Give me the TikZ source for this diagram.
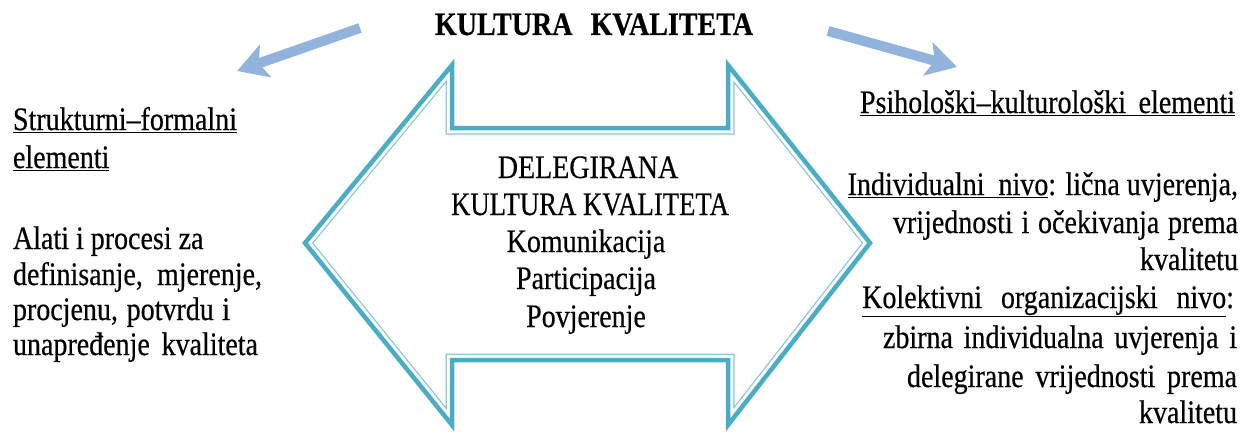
\documentclass[tikz,border=0pt]{standalone}
\usepackage{fontspec}
\setmainfont{Liberation Serif}
\newfontfamily\heavyrm{Liberation Serif}[FakeBold=0.5]
\usetikzlibrary{arrows.meta}
\definecolor{tealA}{RGB}{75,172,198}
\definecolor{tealB}{RGB}{130,198,218}
\definecolor{arrblue}{RGB}{146,180,220}
\newcommand\fsz{\heavyrm\fontsize{28}{34}\selectfont}
\begin{document}
\begin{tikzpicture}[x=1pt,y=1pt,
  txt/.style={inner sep=0pt, outer sep=0pt, font=\fsz, yscale=1.17},
  lt/.style={txt, anchor=base west},
  rt/.style={txt, anchor=base east},
  ct/.style={txt, anchor=base},
  bluearrow/.style={arrblue, line width=10pt, -{Stealth[length=30pt,width=34pt,inset=7pt]}},
  outline/.style={tealA, line width=4.5pt, line join=miter, miter limit=10},
]
\useasboundingbox (0,0) rectangle (1245,-436);
\def\bigarrow{(305,-243) -- (452,-65) -- (452,-128) -- (728,-128) -- (728,-65) -- (870,-243) -- (728,-425) -- (728,-360) -- (452,-360) -- (452,-425) -- cycle}
\begin{scope}
  \clip \bigarrow;
  \draw[tealB, line width=13pt, line join=miter] \bigarrow;
  \draw[white, line width=10.5pt, line join=miter] \bigarrow;
\end{scope}
\draw[outline] \bigarrow;

% blue arrows
\coordinate (la) at (360,-28);
\coordinate (lb) at (237,-71);
\coordinate (ra) at (828,-31);
\coordinate (rb) at (957,-67);
\draw[bluearrow] (la) -- (lb);
\draw[bluearrow] (ra) -- (rb);

% title
\node[ct, font=\fsz\bfseries] (title) at (594,-35) {\makebox[318pt][s]{KULTURA KVALITETA}};

% left block
\node[lt] (s1) at (13,-130) {\underline{Strukturni–formalni}};
\node[lt] (s2) at (13,-168) {\underline{elementi}};
\node[lt] (s3) at (13,-249) {Alati i procesi za};
\node[lt] (s4) at (13,-285) {\makebox[249pt][s]{definisanje, mjerenje,}};
\node[lt] (s5) at (13,-320) {\makebox[217pt][s]{procjenu, potvrdu i}};
\node[lt] (s6) at (13,-355) {\makebox[245pt][s]{unapređenje kvaliteta}};

% center block
\node[ct] (c1) at (588,-178) {DELEGIRANA};
\node[ct, xscale=0.955] (c2) at (590,-215) {KULTURA KVALITETA};
\node[ct] (c3) at (586,-252) {Komunikacija};
\node[ct] (c4) at (586,-289) {Participacija};
\node[ct] (c5) at (586,-327) {Povjerenje};

% right block
\node[rt] (p1) at (1235,-113) {\underline{\makebox[375pt][s]{Psihološki–kulturološki elementi}}};
\node[rt] (p2) at (1238,-195) {\underline{Individualni\ \ nivo}: lična uvjerenja,};
\node[rt] (p3) at (1238,-233) {\makebox[345pt][s]{vrijednosti i očekivanja prema}};
\node[rt] (p4) at (1238,-270) {kvalitetu};
\node[rt] (p5) at (1234,-308) {\underline{\makebox[364pt][s]{Kolektivni organizacijski nivo}}:};
\node[rt] (p6) at (1237,-348) {\makebox[354pt][s]{zbirna individualna uvjerenja i}};
\node[rt] (p7) at (1237,-387) {\makebox[330pt][s]{delegirane vrijednosti prema}};
\node[rt] (p8) at (1237,-423) {kvalitetu};
\end{tikzpicture}
\end{document}
